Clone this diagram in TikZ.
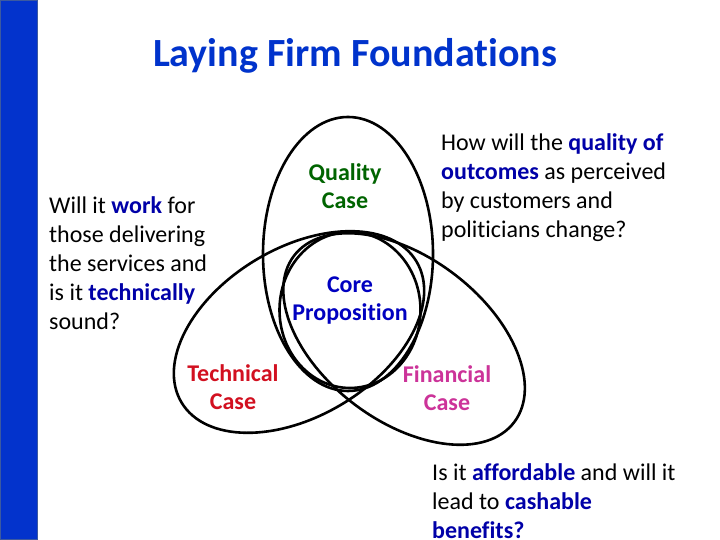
\documentclass[tikz,border=0pt]{standalone}
\usepackage{fontspec}
\setmainfont{Carlito}[Ligatures=NoCommon]
\usetikzlibrary{positioning}
\definecolor{cBar}{RGB}{3,51,204}
\definecolor{cBarEdge}{RGB}{60,90,160}
\definecolor{cTitle}{RGB}{0,51,204}
\definecolor{cEmph}{RGB}{0,0,168}
\definecolor{cCore}{RGB}{0,0,192}
\definecolor{cQual}{RGB}{0,100,0}
\definecolor{cTech}{RGB}{210,16,32}
\definecolor{cFin}{RGB}{204,51,153}
\newcommand{\emphw}[1]{\textcolor{cEmph}{\textbf{#1}}}

\begin{document}
\begin{tikzpicture}[x=1pt, y=1pt,
            ring/.style={draw=black, line width=2.6pt},
            txt/.style={anchor=base west, align=left, inner sep=0pt, font=\fontsize{24}{28.8}\selectfont},
            lbl/.style={anchor=base, align=center, inner sep=0pt, font=\fontsize{24}{28.4}\selectfont\bfseries}]
            \useasboundingbox (0,0) rectangle (720,540);
            \fill[white] (0,0) rectangle (720,540);
            \filldraw[fill=cBar, draw=cBarEdge, line width=1pt] (0.5,0.5) rectangle (37,539.5);
            \node[font=\fontsize{40}{48}\selectfont\bfseries, text=cTitle] (title) at (355,484) {Laying Firm Foundations};
            % circles
            \coordinate (qc) at (348,286);
            \coordinate (cc) at (350,230);
            \coordinate (tc) at (299,208);
            \coordinate (fc) at (404,201);
            \draw[ring] (qc) ellipse (85 and 137);
            \draw[ring] (cc) ellipse (70.5 and 78);
            \draw[ring, rotate around={31:(tc)}] (tc) ellipse (137 and 84);
            \draw[ring, rotate around={-37:(fc)}] (fc) ellipse (138 and 82);
            % labels (base = last line)
            \node[lbl, text=cQual] (qual) at (345,331) {Quality\\Case};
            \node[lbl, text=cCore] (core) at (350,219) {Core\\Proposition};
            \node[lbl, text=cTech] (tech) at (233,130) {Technical\\Case};
            \node[lbl, text=cFin] (fin) at (447,129) {Financial\\Case};
            % questions
            \node[txt] (qtech) at (49,210.8) {Will it \emphw{work} for\\those delivering\\the services and\\is it \emphw{technically}\\sound?};
            \node[txt] (qqual) at (441,302.6) {How will the \emphw{quality of}\\\emphw{outcomes} as perceived\\by customers and\\politicians change?};
            \node[txt] (qfin) at (432,1.4) {Is it \emphw{affordable} and will it\\lead to \emphw{cashable}\\\emphw{benefits?}};
\end{tikzpicture}
\end{document}
